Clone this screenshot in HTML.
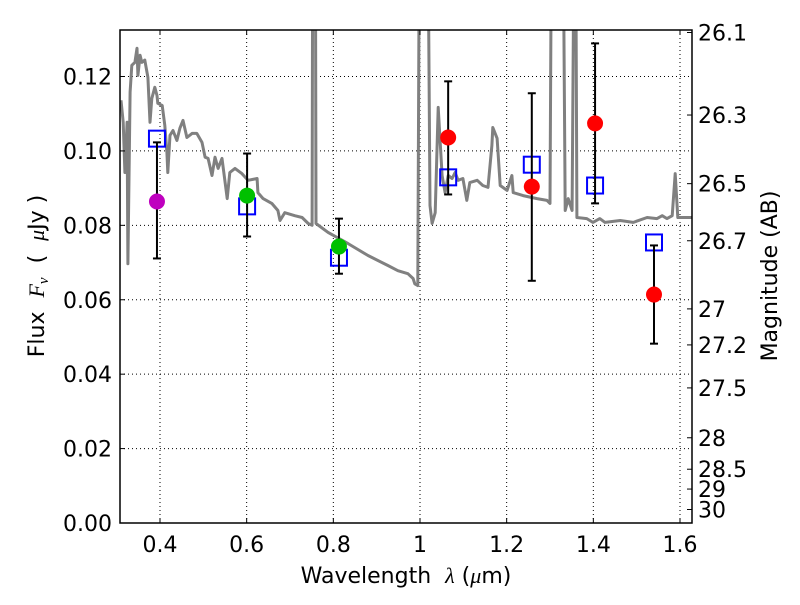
<!DOCTYPE html>
<html><head><meta charset="utf-8"><style>
html,body{margin:0;padding:0;background:#fff;}
svg text{font-family:"DejaVu Sans","Liberation Sans",sans-serif;font-size:22px;fill:#000;}
</style></head><body>
<svg id="chart" width="800" height="600" xmlns="http://www.w3.org/2000/svg">
<g id="grid"></g>
<g id="spec"></g>
<g id="marks"></g>
<g id="axes"></g>
<text x="406" y="583" text-anchor="middle">Wavelength&#160;&#160;<tspan font-family="Liberation Serif" font-style="italic">λ</tspan>&#160;(<tspan font-family="Liberation Serif" font-style="italic">μ</tspan>m)</text>
<text transform="translate(44,276) rotate(-90)" text-anchor="middle">Flux&#160;&#160;<tspan font-family="Liberation Serif" font-style="italic">F<tspan font-size="15" dy="4">ν</tspan></tspan><tspan dy="-4">&#160;&#160;(&#160;&#160;</tspan><tspan font-family="Liberation Serif" font-style="italic">μ</tspan>Jy&#160;)</text>
<text transform="translate(777,276) rotate(-90)" text-anchor="middle">Magnitude (AB)</text>
</svg>
<script>
const specLam=[0.310,0.315,0.319,0.324,0.326,0.331,0.335,0.342,0.347,0.349,0.354,0.358,0.365,0.372,0.377,0.381,0.388,0.393,0.395,0.405,0.411,0.416,0.418,0.423,0.430,0.439,0.446,0.453,0.462,0.474,0.485,0.497,0.504,0.511,0.520,0.527,0.534,0.543,0.555,0.561,0.573,0.589,0.603,0.624,0.626,0.638,0.658,0.672,0.677,0.688,0.711,0.728,0.742,0.751,0.753,0.758,0.760,0.788,0.834,0.880,0.926,0.949,0.972,0.984,0.988,0.995,1.000,1.016,1.023,1.028,1.035,1.042,1.051,1.058,1.065,1.074,1.081,1.088,1.099,1.108,1.115,1.132,1.145,1.157,1.166,1.168,1.178,1.185,1.201,1.212,1.215,1.238,1.270,1.293,1.300,1.305,1.328,1.335,1.342,1.351,1.358,1.362,1.385,1.399,1.415,1.427,1.462,1.492,1.524,1.547,1.559,1.570,1.582,1.589,1.595,1.628];
const specFlux=[0.1136,0.1077,0.0942,0.1077,0.0697,0.1158,0.1230,0.1238,0.1276,0.1203,0.1257,0.1238,0.1244,0.1198,0.1077,0.1141,0.1171,0.1149,0.1128,0.1122,0.1069,0.0996,0.0942,0.1042,0.1055,0.1028,0.1061,0.1082,0.1036,0.1047,0.1047,0.1023,0.0983,0.0980,0.0934,0.0983,0.0953,0.0980,0.0872,0.0942,0.0953,0.0939,0.0921,0.0926,0.0888,0.0872,0.0859,0.0840,0.0813,0.0834,0.0826,0.0821,0.0805,0.0800,0.2,0.2,0.0805,0.0781,0.0751,0.0719,0.0692,0.0678,0.0670,0.0657,0.0643,0.0638,0.2,0.2,0.0853,0.0805,0.0834,0.1117,0.0934,0.0888,0.0934,0.0926,0.0942,0.0921,0.0926,0.0867,0.0915,0.0921,0.0907,0.0902,0.1015,0.1063,0.1034,0.0907,0.0894,0.0934,0.0888,0.0880,0.0872,0.0867,0.0859,0.2,0.2,0.0840,0.0872,0.0840,0.2,0.0821,0.0818,0.0808,0.0818,0.0808,0.0813,0.0808,0.0821,0.0818,0.0826,0.0818,0.0826,0.0939,0.0821,0.0821];
const obsLam=[0.393,0.601,0.813,1.065,1.258,1.404,1.540];
const obsFlux=[0.0864,0.0880,0.0743,0.1036,0.0904,0.1074,0.0614];
const obsLo=[0.0711,0.0770,0.0670,0.0883,0.0651,0.0859,0.0482];
const obsHi=[0.1023,0.0993,0.0818,0.1187,0.1155,0.1289,0.0746];
const obsColor=["#bf00bf","#00c000","#00c000","#ff0000","#ff0000","#ff0000","#ff0000"];
const modelFlux=[0.1033,0.0851,0.0713,0.0929,0.0963,0.0907,0.0754];
const xTicks=[0.4,0.6,0.8,1.0,1.2,1.4,1.6];
const xTickLabels=["0.4","0.6","0.8","1","1.2","1.4","1.6"];
const yTicks=[0,0.02,0.04,0.06,0.08,0.10,0.12];
const yTickLabels=["0.00","0.02","0.04","0.06","0.08","0.10","0.12"];
const magTicks=[26.1,26.3,26.5,26.7,27,27.2,27.5,28,28.5,29,30];

const L=120,R=692,T=30,B=523;
const X0=0.3077,X1=1.6277,Y0=0,Y1=0.1325;
const sx=v=>L+(v-X0)/(X1-X0)*(R-L);
const sy=v=>B-(v-Y0)/(Y1-Y0)*(B-T);
const NS="http://www.w3.org/2000/svg";
function mk(tag,attrs,parent){const e=document.createElementNS(NS,tag);for(const k in attrs)e.setAttribute(k,attrs[k]);parent.appendChild(e);return e;}
const grid=document.getElementById('grid'),spec=document.getElementById('spec'),marks=document.getElementById('marks'),axes=document.getElementById('axes');

xTicks.forEach((t,i)=>{
  const g=mk('line',{x1:sx(t),x2:sx(t),y1:T,y2:B,stroke:'#000','stroke-width':1,'stroke-dasharray':'1,3'},grid);
  
  
  mk('line',{x1:sx(t),x2:sx(t),y1:B,y2:B-5,stroke:'#000','stroke-width':1},axes);
  mk('line',{x1:sx(t),x2:sx(t),y1:T,y2:T+5,stroke:'#000','stroke-width':1},axes);
  const tx=mk('text',{x:sx(t),y:B+29,'text-anchor':'middle'},axes);
  tx.textContent=xTickLabels[i];
  
  
});
yTicks.forEach((t,i)=>{
  if(i>0){
    const g=mk('line',{x1:L,x2:R,y1:sy(t),y2:sy(t),stroke:'#000','stroke-width':1,'stroke-dasharray':'1,3'},grid);
    
    
  }
  mk('line',{x1:L,x2:L+5,y1:sy(t),y2:sy(t),stroke:'#000','stroke-width':1},axes);
  const tx=mk('text',{x:L-8,y:sy(t)+8,'text-anchor':'end'},axes);
  tx.textContent=yTickLabels[i];
  
  
});
magTicks.forEach(m=>{
  const f=Math.pow(10,(23.9-m)/2.5);
  const y=sy(f);
  mk('line',{x1:R-5,x2:R,y1:y,y2:y,stroke:'#000','stroke-width':1},axes);
  const tx=mk('text',{x:R+6,y:y+8,'text-anchor':'start'},axes);
  tx.textContent=String(m);
  
  
});

const clip=mk('clipPath',{id:'pc'},document.getElementById('chart'));
mk('rect',{x:L,y:T,width:R-L,height:B-T},clip);
const pts=specLam.map((l,i)=>sx(l).toFixed(1)+','+sy(specFlux[i]).toFixed(1)).join(' ');
const pl=mk('polyline',{points:pts,fill:'none',stroke:'#808080','stroke-width':3,'stroke-linejoin':'round','clip-path':'url(#pc)'},spec);



obsLam.forEach((l,i)=>{
  const x=sx(l);
  const sq=mk('rect',{x:x-8,y:sy(modelFlux[i])-8,width:16,height:16,fill:'none',stroke:'#0000ff','stroke-width':2},marks);
  
  
  const eb=mk('g',{},marks);
  
  
  mk('line',{x1:x,x2:x,y1:sy(obsLo[i]),y2:sy(obsHi[i]),stroke:'#000','stroke-width':2},eb);
  mk('line',{x1:x-4,x2:x+4,y1:sy(obsLo[i]),y2:sy(obsLo[i]),stroke:'#000','stroke-width':2},eb);
  mk('line',{x1:x-4,x2:x+4,y1:sy(obsHi[i]),y2:sy(obsHi[i]),stroke:'#000','stroke-width':2},eb);
  const c=mk('circle',{cx:x,cy:sy(obsFlux[i]),r:8,fill:obsColor[i]},marks);
  
  
});

const fr=mk('rect',{x:L,y:T,width:R-L,height:B-T,fill:'none',stroke:'#000','stroke-width':1.5},axes);


</script>
</body></html>
